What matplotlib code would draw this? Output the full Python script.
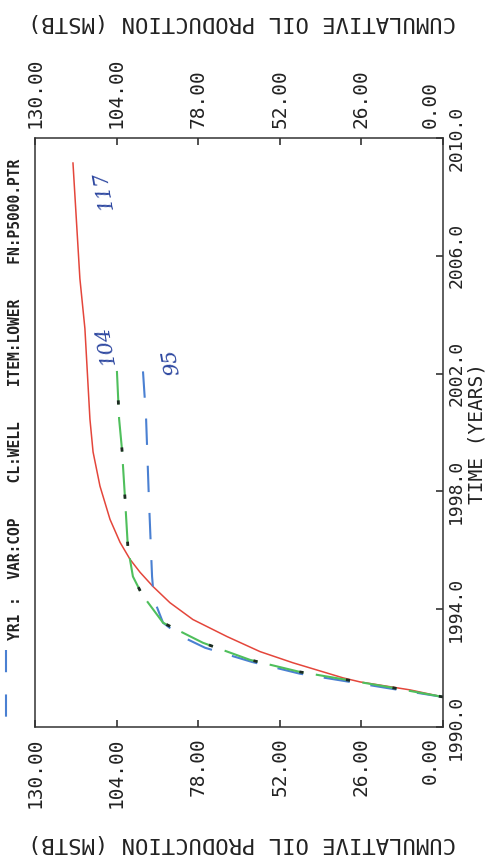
import matplotlib

matplotlib.use("Agg")
import matplotlib.pyplot as plt
import matplotlib.transforms as mtransforms
from matplotlib.lines import Line2D

plt.rcParams["lines.scale_dashes"] = False
MONO = "DejaVu Sans Mono"

W, H = 492, 857

# cumulative oil (MSTB) vs time (years)
red_time = [1991.02, 1991.26, 1991.53, 1991.67, 1992.18, 1992.56, 1993.07, 1993.65,
            1994.22, 1994.77, 1995.25, 1995.69, 1996.27, 1997.05, 1998.18, 1999.34,
            2000.46, 2003.53, 2005.23, 2009.15]
red_oil = [0.0, 10.5, 26.4, 31.9, 47.8, 58.3, 68.8, 79.7,
           87.0, 92.4, 96.5, 99.7, 102.9, 106.1, 109.3, 111.5,
           112.5, 114.1, 115.7, 117.9]

green_time = [1991.02, 1991.33, 1991.60, 1991.87, 1992.28, 1992.86, 1993.54, 1994.50,
              1995.11, 1996.10, 1997.73, 1999.44, 2000.46, 2002.09]
green_oil = [0.0, 15.9, 30.6, 45.6, 61.5, 76.5, 89.2, 95.9,
             98.8, 100.4, 101.3, 102.3, 103.2, 103.9]

blue_time = [1991.02, 1991.29, 1991.81, 1992.21, 1992.69, 1993.10, 1993.54, 1994.33,
             1995.11, 1997.73, 2000.46, 2002.09]
blue_oil = [0.0, 15.9, 45.6, 60.9, 75.8, 83.8, 89.2, 92.1,
            92.7, 93.7, 94.6, 95.6]

oil_ticks = [0, 26, 52, 78, 104, 130]
time_ticks = [1990, 1994, 1998, 2002, 2006, 2010]

header = "YR1 :  VAR:COP    CL:WELL    ITEM:LOWER    FN:P5000.PTR"
notes = ["117", "104", "95"]
note_pos = [(104, 190), (106, 345), (172, 362)]

C_RED, C_GREEN, C_BLUE = "#e4463b", "#4fbf5c", "#4a80d2"
C_INK = "#2d47a0"


def px(x, y):
    return x / W, 1 - y / H


fig = plt.figure(figsize=(W / 100, H / 100), dpi=100)
ax = fig.add_axes([35 / W, 1 - 727 / H, 408 / W, 589 / H])

ax.plot(red_oil, red_time, color=C_RED, lw=1.1)
ax.plot(blue_oil, blue_time, color=C_BLUE, lw=1.5, ls=(0, (19, 15)))
ax.plot(green_oil, green_time, color=C_GREEN, lw=1.5, ls=(0, (25, 9)))
ax.plot(green_oil, green_time, color="#1d2a22", lw=2.0, ls=(0, (3, 31)))

ax.set_xlim(130, 0)
ax.set_ylim(1990, 2010)
ax.set_xticks(oil_ticks)
ax.set_xticklabels([f"{v:.2f}" for v in oil_ticks])
ax.set_yticks(time_ticks)
ax.set_yticklabels([f"{v:.1f}" for v in time_ticks])
ax.tick_params(axis="x", top=True, bottom=True, labeltop=True, labelbottom=True,
               direction="in", length=5, width=1.1, labelrotation=90, pad=7.5,
               labelsize=14, colors="#222")
ax.tick_params(axis="y", left=False, right=True, labelleft=False, labelright=True,
               direction="in", length=5, width=1.1, labelrotation=90, pad=3,
               labelsize=13, colors="#222")
for lbl in ax.get_xticklabels() + ax.get_yticklabels():
    lbl.set_family(MONO)
for lbl in ax.get_yticklabels():
    lbl.set_va("center")
# the 0.00 labels sit a little inside the corner, clear of the year labels
nudge = mtransforms.ScaledTranslation(-13 / 100, 0, fig.dpi_scale_trans)
t0 = ax.xaxis.get_major_ticks()[0]
for lbl in (t0.label1, t0.label2):
    lbl.set_transform(lbl.get_transform() + nudge)
for s in ax.spines.values():
    s.set_linewidth(1.1)
    s.set_color("#333")

# axis titles (page is a landscape plot turned on its side)
for y in (22, 843):
    fig.text(*px(242, y), "CUMULATIVE OIL PRODUCTION (MSTB)", rotation=180,
             ha="center", va="center", family=MONO, fontsize=16, color="#222")
fig.text(*px(477, 433), "TIME (YEARS)", rotation=90, ha="center", va="center",
         family=MONO, fontsize=14, color="#222")

fig.text(*px(16, 640), header, rotation=90, ha="center", va="bottom",
         family=MONO, fontsize=10.5, weight="bold", color="#222")
fig.add_artist(Line2D([6 / W, 6 / W], [1 - 650 / H, 1 - 720 / H],
                      transform=fig.transFigure, color=C_BLUE, lw=1.5,
                      ls=(0, (16, 16))))

# handwritten end values
for txt, (x, y) in zip(notes, note_pos):
    fig.text(*px(x, y), txt, rotation=100, ha="center", va="center",
             family="DejaVu Serif", style="italic", fontsize=15, color=C_INK)

fig.savefig("out.png", dpi=100)
